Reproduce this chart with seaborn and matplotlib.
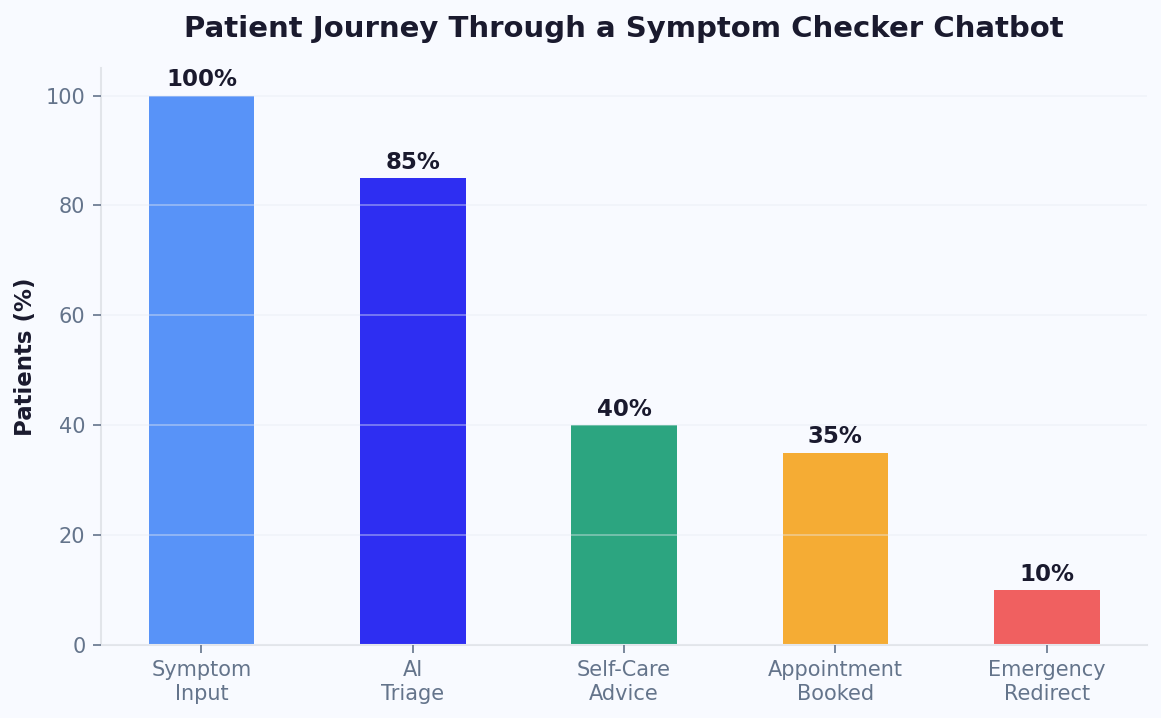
import pandas as pd
import seaborn as sns
import matplotlib.pyplot as plt

# data
stages = ["Symptom\nInput", "AI\nTriage", "Self-Care\nAdvice", "Appointment\nBooked", "Emergency\nRedirect"]
patients = [100, 85, 40, 35, 10]
bar_colors = ["#5893f8", "#2e2ef2", "#2ca580", "#f5ac34", "#f06060"]

bg = "#f8faff"
dark = "#1a1a2e"
muted = "#64748b"

sns.set_theme(style="white")
plt.rcParams["font.family"] = ["DejaVu Sans"]

df = pd.DataFrame({"stage": stages, "patients": patients})

fig, ax = plt.subplots(figsize=(7.74, 4.787), dpi=150)
fig.patch.set_facecolor(bg)
ax.set_facecolor(bg)

sns.barplot(data=df, x="stage", y="patients", hue="stage", palette=bar_colors,
            width=0.5, legend=False, ax=ax, saturation=1, edgecolor="none", linewidth=0)

for i, v in enumerate(patients):
    ax.text(i, v + 0.8, f"{v}%", ha="center", va="bottom",
            fontsize=11, fontweight="bold", color=dark)

ax.set_xlim(-0.475, len(stages) - 1 + 0.475)
ax.set_ylim(0, 105)
ax.set_yticks([0, 20, 40, 60, 80, 100])
ax.yaxis.grid(True, color="#e8ecf2", linewidth=0.8, alpha=0.45, zorder=3)
ax.set_axisbelow(False)

ax.set_title("Patient Journey Through a Symptom Checker Chatbot",
             fontsize=14, fontweight="bold", color=dark, pad=15)
ax.set_xlabel("")
ax.set_ylabel("Patients (%)", fontsize=11, fontweight="bold", color=dark)

ax.tick_params(axis="both", colors=muted, labelsize=10, length=4, width=0.8,
               left=True, bottom=True)
for lbl in ax.get_xticklabels() + ax.get_yticklabels():
    lbl.set_color(muted)

sns.despine(ax=ax)
for s in ["left", "bottom"]:
    ax.spines[s].set_color("#e2e5ea")
    ax.spines[s].set_linewidth(1)

plt.subplots_adjust(left=0.087, right=0.988, top=0.905, bottom=0.102)
plt.savefig("out.png", dpi=150, facecolor=bg)
